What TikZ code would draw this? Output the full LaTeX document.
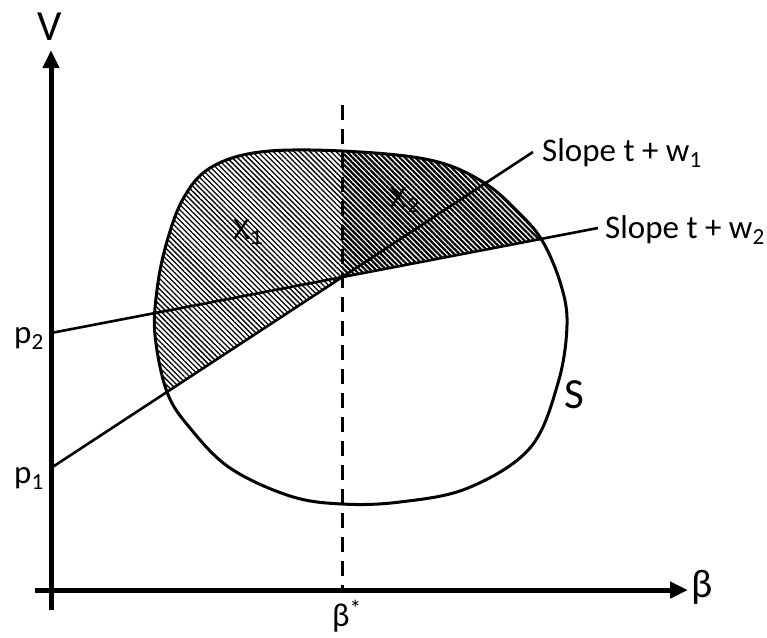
\documentclass[tikz,border=0pt]{standalone}
\usepackage{fontspec}
\setmainfont{Carlito}
\newfontfamily\monof{Liberation Mono}
\usetikzlibrary{patterns.meta,arrows.meta}
\begin{document}
\begin{tikzpicture}[x=1pt,y=-1pt,
  axisline/.style={line width=5pt,-{Triangle[length=18pt,width=16pt]}},
  slopeline/.style={line width=2.6pt},
  curveline/.style={line width=3pt},
  betaline/.style={line width=3pt,dash pattern=on 15pt off 9pt},
  lbl/.style={inner sep=0pt,font=\fontsize{33}{40}\selectfont},
  biglbl/.style={inner sep=0pt,font=\fontsize{43}{50}\selectfont},
  reglbl/.style={inner sep=0pt,font=\monof\fontsize{30}{36}\selectfont},
  lighthatch/.style={pattern={Lines[angle=-45,distance=3.7pt,line width=1.3pt]}},
  darkhatch/.style={pattern={Lines[angle=-45,distance=3.7pt,line width=2.2pt]}}]
\useasboundingbox (0,0) rectangle (767,637);
% key points
\coordinate (yb) at (51,610);
\coordinate (yt) at (51,50);
\coordinate (xl) at (35,590);
\coordinate (xr) at (688,590);
\coordinate (btop) at (342,105);
\coordinate (bbot) at (342,590);
\coordinate (c) at (342,277);
\coordinate (p1) at (51,468);
\coordinate (p2) at (51,333);
\coordinate (e1) at (533,152);
\coordinate (e2) at (598,228);
% shape S
\path[save path=\Spath] plot[smooth cycle,tension=0.6] coordinates {
 (342,151) (430,160) (483,182) (520,214) (543,242) (561,285) (567,325)
 (558,383) (530,448) (468,488) (400,502) (342,504) (290,496) (230,468)
 (190,428) (167,392) (155,335) (157,290) (166,245) (183,199) (210,168) (260,152)};
\begin{scope}
  \clip[use path=\Spath];
  \fill[lighthatch] (p1) -- (c) -- (342,90) -- (40,90) -- cycle;
  \fill[darkhatch] (c) -- (620,224) -- (620,90) -- (342,90) -- cycle;
\end{scope}
\draw[curveline,use path=\Spath];
% lines
\draw[slopeline] (p1) -- (e1);
\draw[slopeline] (p2) -- (e2);
\draw[betaline] (btop) -- (bbot);
% axes
\draw[axisline] (yb) -- (yt);
\draw[axisline] (xl) -- (xr);
% labels
\node[biglbl,anchor=base] (V) at (50,40) {V};
\node[inner sep=0pt,anchor=base west,font=\fontsize{40}{48}\selectfont] (beta) at (691,597) {β};
\node[inner sep=0pt,anchor=base west,font=\fontsize{33}{40}\selectfont] (bstar) at (332,626) {β\textsuperscript{*}};
\node[lbl,anchor=base west] (lp2) at (14,343) {p\textsubscript{2}};
\node[lbl,anchor=base west] (lp1) at (14,483) {p\textsubscript{1}};
\node[lbl,anchor=base west] (l1) at (542,161) {Slope t + w\textsubscript{1}};
\node[lbl,anchor=base west] (l2) at (605,238) {Slope t + w\textsubscript{2}};
\node[biglbl,anchor=base west] (S) at (564,408) {S};
\node[reglbl] (X1) at (248,232) {X\textsubscript{1}};
\node[reglbl] (X2) at (405,200) {X\textsubscript{2}};
\end{tikzpicture}
\end{document}
